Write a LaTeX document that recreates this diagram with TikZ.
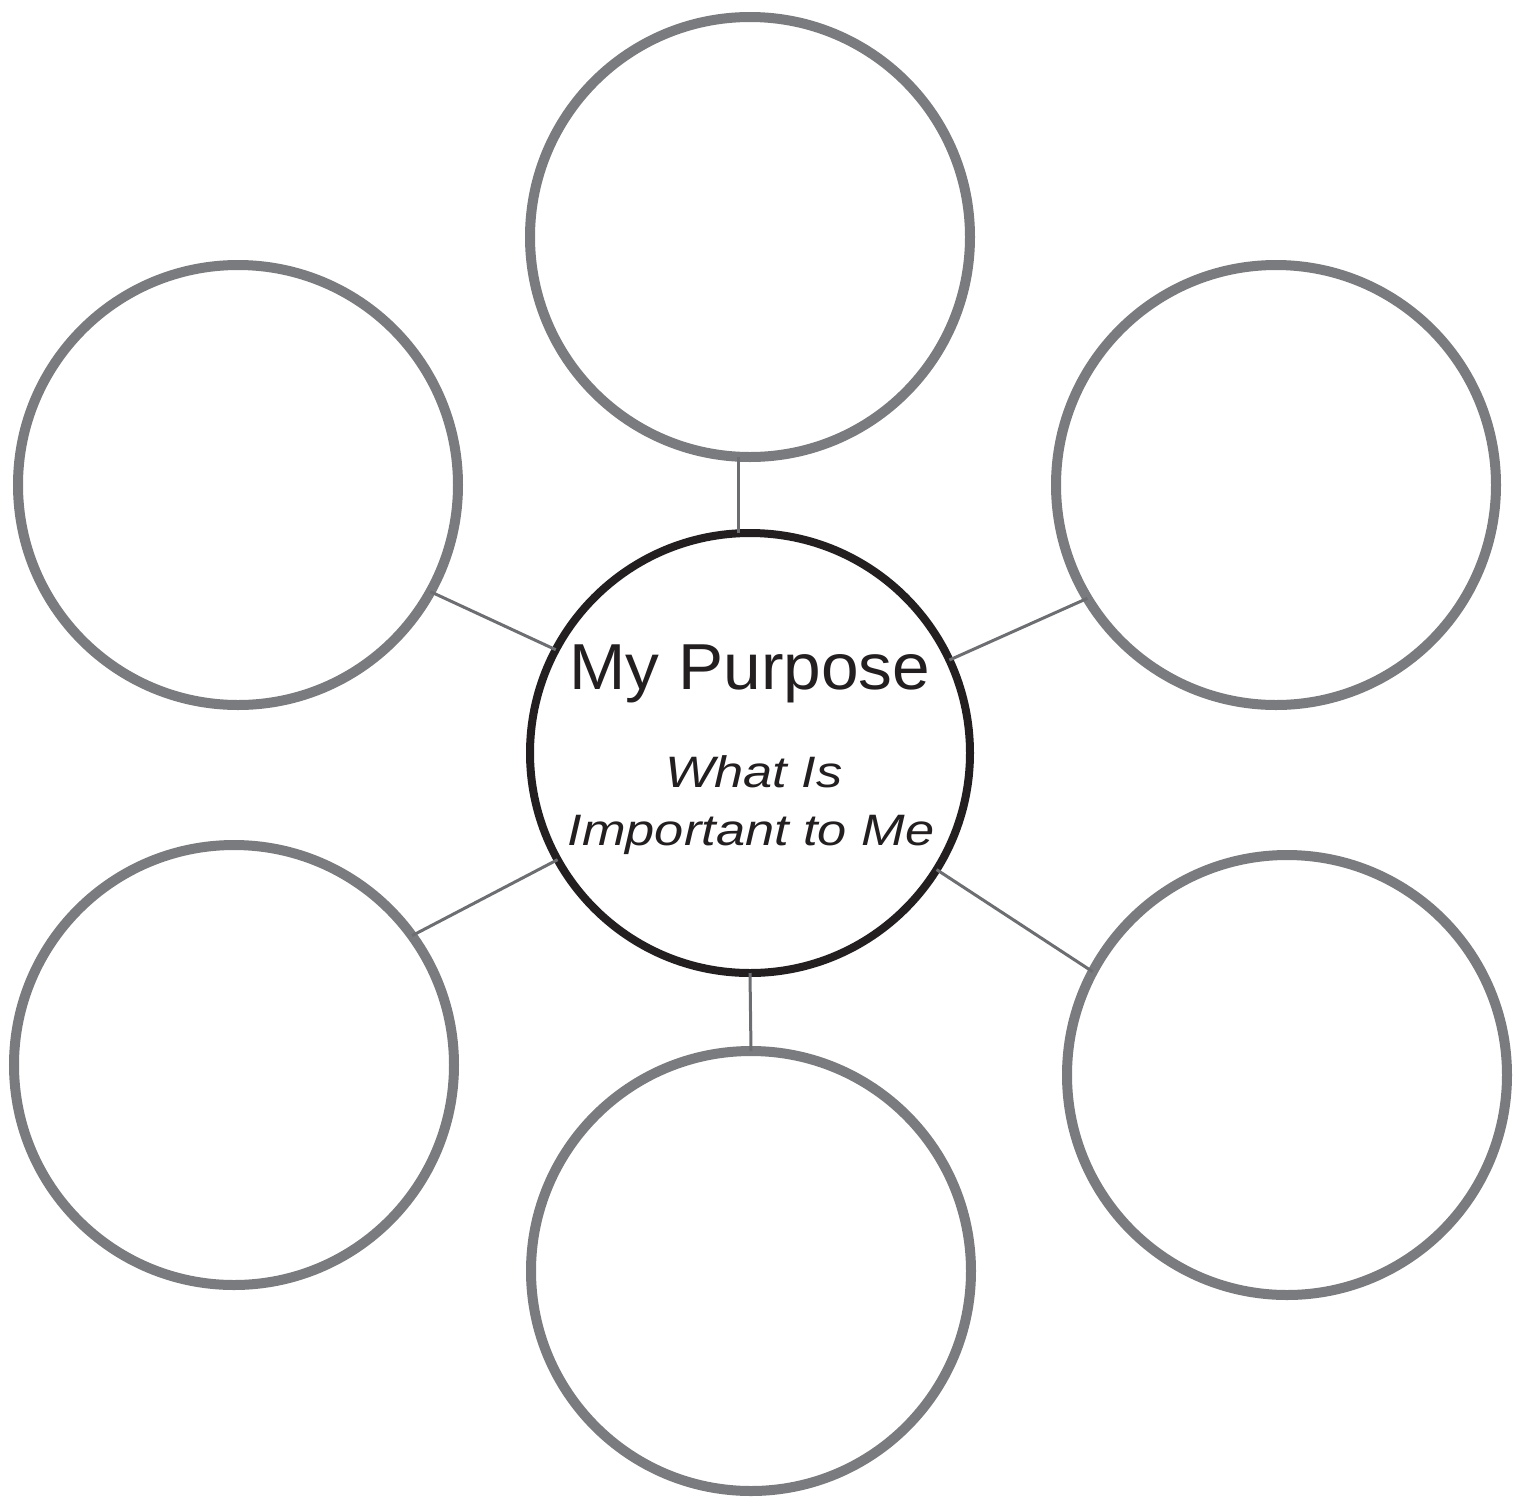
\documentclass[tikz,border=0pt]{standalone}
\usepackage{fontspec}
\setmainfont{Liberation Sans}
\newfontfamily\titlefont[FakeStretch=1.04]{Liberation Sans}
\newfontfamily\subfont[FakeStretch=1.19]{Liberation Sans}
\definecolor{ringgray}{HTML}{7A7B7E}
\definecolor{ringblack}{HTML}{231F20}
\definecolor{linkgray}{HTML}{6D6E71}
\tikzset{
  bubble/.style={circle, draw=ringgray, line width=10pt, minimum size=440pt, inner sep=0pt, outer sep=0pt},
  hub/.style={circle, draw=ringblack, line width=8pt, minimum size=440pt, inner sep=0pt, outer sep=0pt},
  link/.style={draw=linkgray, line width=3pt},
  lbl/.style={anchor=base, inner sep=0pt, text=ringblack}
}
\begin{document}
\begin{tikzpicture}[x=1pt,y=1pt]
\useasboundingbox (0,0) rectangle (1524,-1497);
\node[hub] (c) at (750,-753) {};
\node[bubble] (t)  at (750,-237) {};
\node[bubble] (ul) at (238,-485) {};
\node[bubble] (ur) at (1276,-485) {};
\node[bubble] (ll) at (234,-1065) {};
\node[bubble] (lr) at (1287,-1075) {};
\node[bubble] (b)  at (751,-1271) {};
\draw[link] (c.93.4) -- (c.93.4 |- t.south);
\draw[link] (c.-90) -- (b.90);
\draw[link] (ul.-29.3) -- (c.152.6);
\draw[link] (ur.211.3) -- (c.25.1);
\draw[link] (ll.36.8) -- (c.209.3);
\draw[link] (lr.152.6) -- (c.-32.1);
\node[lbl] (title) at (750,-689) {\titlefont\fontsize{65}{70}\selectfont My Purpose};
\node[lbl] (sub1) at (754,-787) {\subfont\itshape\fontsize{44}{50}\selectfont What Is};
\node[lbl] (sub2) at (751,-845) {\subfont\itshape\fontsize{44}{50}\selectfont Important to Me};
\end{tikzpicture}
\end{document}
